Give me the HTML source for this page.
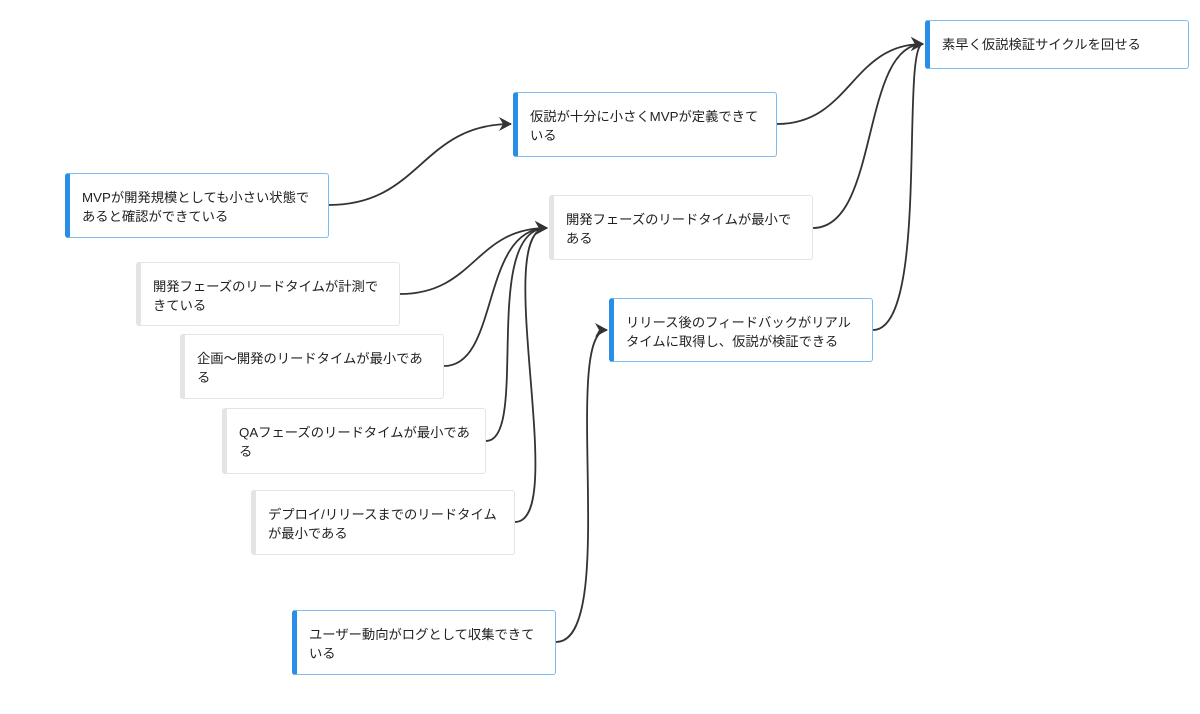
<!DOCTYPE html>
<html><head><meta charset="utf-8"><style>
body{margin:0;width:1200px;height:714px;background:#fff;position:relative;overflow:hidden;font-family:"Liberation Sans","Noto Sans CJK JP",sans-serif;}
.n{position:absolute;box-sizing:border-box;width:264px;background:#fff;border:1px solid #e4e4e4;border-left:5px solid #e4e4e4;border-radius:3px;font-size:13.3px;line-height:19px;color:#222;padding:14px 14px 0 12px;}
.b{border-color:#7fbcf0;border-left-color:#2b8ee6;}
svg{position:absolute;left:0;top:0;}
</style></head><body>
<svg width="1200" height="714" fill="none" stroke="#333" stroke-width="1.8">
<defs><marker id="a" markerWidth="14" markerHeight="14" refX="12" refY="7" orient="auto" markerUnits="userSpaceOnUse"><path d="M0,0 L13,7 L0,14 L4,7z" fill="#333" stroke="none"/></marker></defs>
<path d="M329,205 C421,205 421,124 511,124" marker-end="url(#a)"/>
<path d="M777,124 C851,124 851,44 923,44" marker-end="url(#a)"/>
<path d="M813,228 C880,228 860,44 923,44" marker-end="url(#a)"/>
<path d="M873,330 C930,330 900,44 923,44" marker-end="url(#a)"/>
<path d="M400,294 C475,294 475,228 547,228" marker-end="url(#a)"/>
<path d="M444,366 C500,366 480,228 547,228" marker-end="url(#a)"/>
<path d="M486,441 C530,441 480,228 547,228" marker-end="url(#a)"/>
<path d="M515,522 C570,522 490,228 547,228" marker-end="url(#a)"/>
<path d="M556,642 C620,642 560,330 607,330" marker-end="url(#a)"/>
</svg>
<div class="n b" style="left:65px;top:173px;height:65px">MVPが開発規模としても小さい状態であると確認ができている</div>
<div class="n b" style="left:513px;top:92px;height:65px">仮説が十分に小さくMVPが定義できている</div>
<div class="n b" style="left:925px;top:20px;height:49px">素早く仮説検証サイクルを回せる</div>
<div class="n" style="left:549px;top:195px;height:65px">開発フェーズのリードタイムが最小である</div>
<div class="n" style="left:136px;top:262px;height:64px">開発フェーズのリードタイムが計測できている</div>
<div class="n" style="left:180px;top:334px;height:65px">企画〜開発のリードタイムが最小である</div>
<div class="n" style="left:222px;top:408px;height:66px">QAフェーズのリードタイムが最小である</div>
<div class="n" style="left:251px;top:490px;height:65px">デプロイ/リリースまでのリードタイムが最小である</div>
<div class="n b" style="left:609px;top:298px;height:64px">リリース後のフィードバックがリアルタイムに取得し、仮説が検証できる</div>
<div class="n b" style="left:292px;top:610px;height:65px">ユーザー動向がログとして収集できている</div>
</body></html>
